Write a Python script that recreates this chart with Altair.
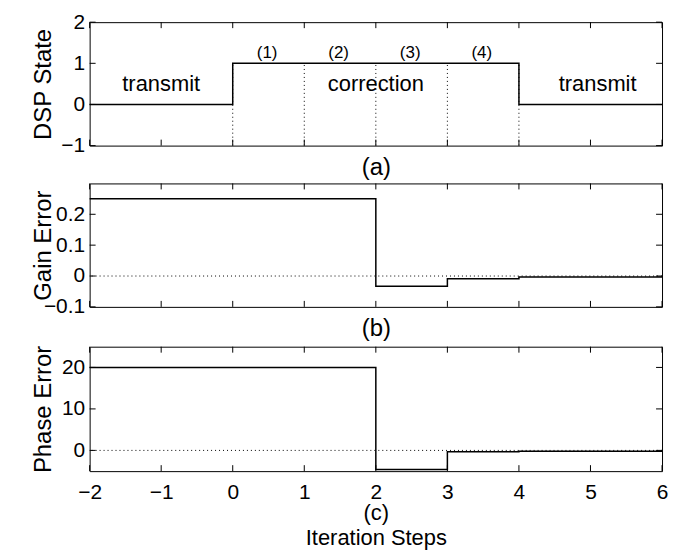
import altair as alt
import pandas as pd

# ---- data ----
steps_x = [-2, -1, 0, 1, 2, 3, 4, 5, 6]

dsp_x = [-2, 0, 4, 6]
dsp_y = [0, 1, 0, 0]

gain_x = [-2, 2, 3, 4, 6]
gain_y = [0.25, -0.033, -0.009, -0.003, -0.003]

phase_x = [-2, 2, 3, 4, 6]
phase_y = [20, -4.6, -0.3, -0.2, -0.2]

marker_x = [0, 1, 2, 3, 4]

state_labels = ["transmit", "correction", "transmit"]
state_label_x = [-1, 2, 5.1]
state_label_y = [0.5, 0.5, 0.5]

phase_labels = ["(1)", "(2)", "(3)", "(4)"]
phase_label_x = [0.48, 1.48, 2.48, 3.48]
phase_label_y = [1.25, 1.25, 1.25, 1.25]

a_ticks = [-1, 0, 1, 2]
b_ticks = [-0.1, 0, 0.1, 0.2]
c_ticks = [0, 10, 20]

W = 575
H_A, H_B, H_C = 124, 124, 125
FONT = "Liberation Sans"
TICK_LEN = 6


def xenc(axis=None):
    return alt.X("x:Q", scale=alt.Scale(domain=[-2, 6], nice=False, zero=False),
                 axis=axis)


def panel(line_x, line_y, ydomain, yticks, ytitle, xaxis, H, extra=None, zero_line=True):
    yscale = alt.Scale(domain=ydomain, nice=False, zero=False)
    yaxis = alt.Axis(values=yticks, format=".1~f", ticks=False, domain=False, grid=False,
                     labelPadding=5, title=ytitle, titleX=-39, titleY=H / 2,
                     titleAngle=-90, titleBaseline="alphabetic", titleAlign="center")
    line_df = pd.DataFrame({"x": line_x, "y": line_y})
    xt_df = pd.DataFrame({"x": steps_x})
    yt_df = pd.DataFrame({"y": yticks})

    layers = []
    if zero_line:
        layers.append(alt.Chart(pd.DataFrame({"y": [0]})).mark_rule(
            color="black", strokeWidth=1, strokeDash=[1, 3]).encode(
            y=alt.Y("y:Q", scale=yscale, axis=yaxis)))
    if extra is not None:
        layers.extend(extra(yscale, yaxis, xaxis))
    layers.append(alt.Chart(line_df).mark_line(
        interpolate="step-after", color="black", strokeWidth=1.5).encode(
        x=xenc(xaxis), y=alt.Y("y:Q", scale=yscale, axis=yaxis)))
    # inward tick marks (MATLAB style)
    layers.append(alt.Chart(xt_df).mark_rule(color="black", strokeWidth=1).encode(
        x=xenc(xaxis), y=alt.value(0), y2=alt.value(TICK_LEN)))
    layers.append(alt.Chart(xt_df).mark_rule(color="black", strokeWidth=1).encode(
        x=xenc(xaxis), y=alt.value(H), y2=alt.value(H - TICK_LEN)))
    layers.append(alt.Chart(yt_df).mark_rule(color="black", strokeWidth=1).encode(
        y=alt.Y("y:Q", scale=yscale, axis=yaxis), x=alt.value(0), x2=alt.value(TICK_LEN)))
    layers.append(alt.Chart(yt_df).mark_rule(color="black", strokeWidth=1).encode(
        y=alt.Y("y:Q", scale=yscale, axis=yaxis), x=alt.value(W), x2=alt.value(W - TICK_LEN)))
    return alt.layer(*layers).properties(width=W, height=H)


def extra_a(yscale, yaxis, xaxis):
    vdf = pd.DataFrame({"x": marker_x, "y": [-1] * 5, "y2": [1] * 5})
    sdf = pd.DataFrame({"x": state_label_x, "y": state_label_y, "t": state_labels})
    pdf = pd.DataFrame({"x": phase_label_x, "y": phase_label_y, "t": phase_labels})
    return [
        alt.Chart(vdf).mark_rule(color="black", strokeWidth=1, strokeDash=[1, 3]).encode(
            x=xenc(xaxis), y=alt.Y("y:Q", scale=yscale, axis=yaxis), y2="y2:Q"),
        alt.Chart(sdf).mark_text(font=FONT, fontSize=22, color="black").encode(
            x=xenc(xaxis), y=alt.Y("y:Q", scale=yscale, axis=yaxis), text="t:N"),
        alt.Chart(pdf).mark_text(font=FONT, fontSize=17, color="black").encode(
            x=xenc(xaxis), y=alt.Y("y:Q", scale=yscale, axis=yaxis), text="t:N"),
    ]


xa_axis = alt.Axis(labels=False, ticks=False, domain=False, grid=False, title="(a)",
                   titlePadding=10, titleFontSize=24)
xb_axis = alt.Axis(labels=False, ticks=False, domain=False, grid=False, title="(b)",
                   titlePadding=10, titleFontSize=24)
xc_axis = alt.Axis(values=steps_x, format="d", ticks=False, domain=False, grid=False,
                   labelFlush=False, labelPadding=10, title=["(c)", "Iteration Steps"],
                   titlePadding=1, titleLineHeight=25, titleFontSize=22)

pa = panel(dsp_x, dsp_y, [-1, 2], a_ticks, "DSP State", xa_axis, H_A,
           extra=extra_a, zero_line=False)
pb = panel(gain_x, gain_y, [-0.1, 0.3], b_ticks, "Gain Error", xb_axis, H_B)
pc = panel(phase_x, phase_y, [-5, 25], c_ticks, "Phase Error", xc_axis, H_C)

chart = alt.vconcat(pa, pb, pc, spacing=2).properties(
    padding={"left": 23, "top": 1, "right": 0, "bottom": 0}
).configure_view(stroke="black", strokeWidth=1).configure_axis(
    labelFont=FONT, labelFontSize=21, labelColor="black",
    titleFont=FONT, titleFontSize=24, titleColor="black", titleFontWeight="normal"
)

chart.save("out.html", embed_options={"renderer": "svg", "actions": False})
